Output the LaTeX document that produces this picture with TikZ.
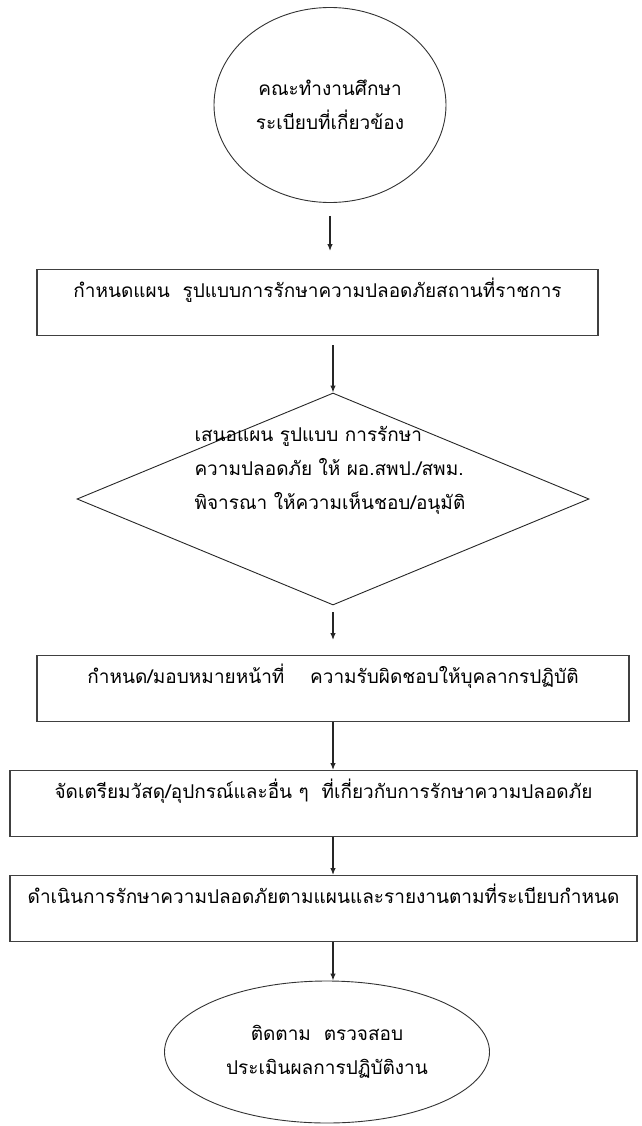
\documentclass[tikz,border=0pt]{standalone}
\usepackage{fontspec}
\newfontfamily\thaifont[Script=Thai]{Loma}
\usetikzlibrary{shapes.geometric,arrows.meta}

\begin{document}
\begin{tikzpicture}[x=1pt, y=-1pt,
        font=\thaifont\fontsize{19}{34}\selectfont,
        every node/.style={text=black},
        flowline/.style={line width=1.2pt, draw=black!85, -{Latex[length=7pt,width=5.5pt]}},
        stepbox/.style={draw=black!75, line width=1.4pt, inner xsep=0pt, inner ysep=0pt,
            text height=28pt, text depth=38pt, anchor=north},
        roundbox/.style={draw=black!80, line width=0.9pt, ellipse, inner sep=0pt, align=center},
        checkbox/.style={draw=black!85, line width=0.9pt, diamond, inner sep=0pt}]
        % Fix the page to the size of the reference
        \useasboundingbox (0,0) rectangle (641,1126);

        % Start: the working group
        \node[roundbox, minimum width=232pt, minimum height=195pt] (team) at (330,105)
            {คณะทำงานศึกษา\\ระเบียบที่เกี่ยวข้อง};

        % Plan box
        \node[stepbox, minimum width=561pt] (plan) at (317.5,269)
            {กำหนดแผน\ \ รูปแบบการรักษาความปลอดภัยสถานที่ราชการ};

        % Decision diamond and its text
        \node[checkbox, minimum width=512pt, minimum height=212pt] (check) at (333,499) {};
        \node[anchor=west, align=left] (checktext) at (191,470)
            {เสนอแผน รูปแบบ การรักษา\\ความปลอดภัย ให้ ผอ.สพป./สพม.\\พิจารณา ให้ความเห็นชอบ/อนุมัติ};

        % Remaining steps
        \node[stepbox, minimum width=592pt] (assign) at (333,655)
            {กำหนด/มอบหมายหน้าที่\ \ \ \ ความรับผิดชอบให้บุคลากรปฏิบัติ};
        \node[stepbox, minimum width=627pt] (prepare) at (323.5,770)
            {จัดเตรียมวัสดุ/อุปกรณ์และอื่น ๆ\ \ ที่เกี่ยวกับการรักษาความปลอดภัย};
        \node[stepbox, minimum width=627pt] (act) at (323.5,875)
            {ดำเนินการรักษาความปลอดภัยตามแผนและรายงานตามที่ระเบียบกำหนด};

        % End: follow-up
        \node[roundbox, minimum width=325pt, minimum height=142pt] (follow) at (327,1052)
            {ติดตาม\ \ ตรวจสอบ\\ประเมินผลการปฏิบัติงาน};

        % Arrows down the chart
        \draw[flowline, shorten <=13pt, shorten >=18pt] (team.south) -- (team.south |- plan.north);
        \draw[flowline, shorten <=9pt] (plan.south -| check.north) -- (check.north);
        \draw[flowline, shorten <=7pt, shorten >=15pt] (check.south) -- (check.south |- assign.north);
        \draw[flowline] (assign.south -| check.south) -- (check.south |- prepare.north);
        \draw[flowline] (prepare.south -| check.south) -- (check.south |- act.north);
        \draw[flowline] (act.south -| check.south) -- (check.south |- follow.north);
    \end{tikzpicture}
\end{document}
